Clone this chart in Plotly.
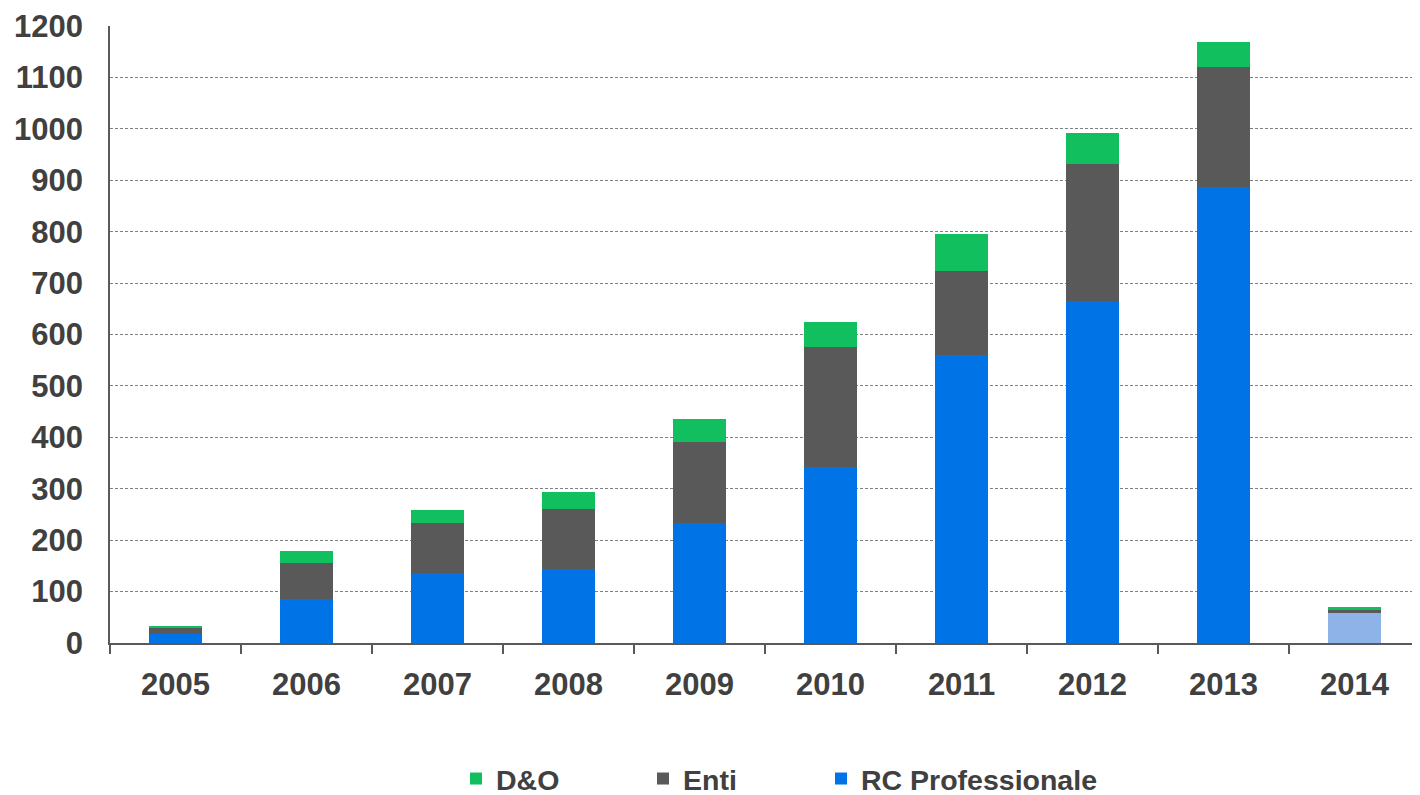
import plotly.graph_objects as go

years = ["2005", "2006", "2007", "2008", "2009", "2010", "2011", "2012", "2013", "2014"]
rc_prof = [18, 86, 136, 144, 233, 342, 560, 665, 887, 58]
enti = [13, 70, 97, 117, 158, 234, 164, 267, 234, 6]
d_o = [2, 23, 26, 33, 45, 48, 72, 60, 48, 6]
y_ticks = list(range(0, 1201, 100))

BLUE = "#0073E6"
GRAY = "#595959"
GREEN = "#12BF5E"
TXT = "#404040"
rc_colors = [BLUE] * (len(years) - 1) + ["#8DB3E8"]

# the page has an 8px body margin, so the figure is 8px smaller each way
W, H = 1412, 787

fig = go.Figure()
fig.add_trace(go.Bar(x=years, y=rc_prof, name="RC Professionale",
                     marker=dict(color=rc_colors, line=dict(width=0)),
                     legend="legend3"))
fig.add_trace(go.Bar(x=years, y=enti, name="Enti",
                     marker=dict(color=GRAY, line=dict(width=0)),
                     legend="legend2"))
fig.add_trace(go.Bar(x=years, y=d_o, name="D&O",
                     marker=dict(color=GREEN, line=dict(width=0)),
                     legend="legend"))

font = dict(family="Liberation Sans, Arial, sans-serif", size=31, color=TXT, weight="bold")
legfont = dict(family="Liberation Sans, Arial, sans-serif", size=28.5, color=TXT, weight="bold")

def leg(px):
    return dict(x=px / W, xref="container", xanchor="left", y=16 / H, yref="container",
                yanchor="middle", orientation="h", font=legfont,
                bgcolor="rgba(0,0,0,0)", itemwidth=30, tracegroupgap=0)

fig.update_layout(
    barmode="stack",
    bargap=0.6,
    width=W, height=H,
    margin=dict(l=102, r=0, t=18, b=152, autoexpand=False),
    plot_bgcolor="white", paper_bgcolor="white",
    font=font,
    showlegend=True,
    legend=leg(448),
    legend2=leg(635),
    legend3=leg(813),
    xaxis=dict(
        type="category",
        showline=True, linecolor=GRAY, linewidth=2,
        ticks="outside", tickson="boundaries", ticklen=9, tickwidth=1.5, tickcolor=GRAY,
        tickfont=font, ticklabelstandoff=13,
        showgrid=False,
    ),
    yaxis=dict(
        range=[0, 1200], tickvals=y_ticks, ticktext=[str(v) for v in y_ticks],
        showline=True, linecolor=GRAY, linewidth=1.5,
        ticks="", tickfont=font, ticklabelstandoff=19,
        showgrid=True, gridcolor="#808080", gridwidth=1, griddash="3px,2px",
        zeroline=False,
    ),
)

fig.write_html("out.html")
